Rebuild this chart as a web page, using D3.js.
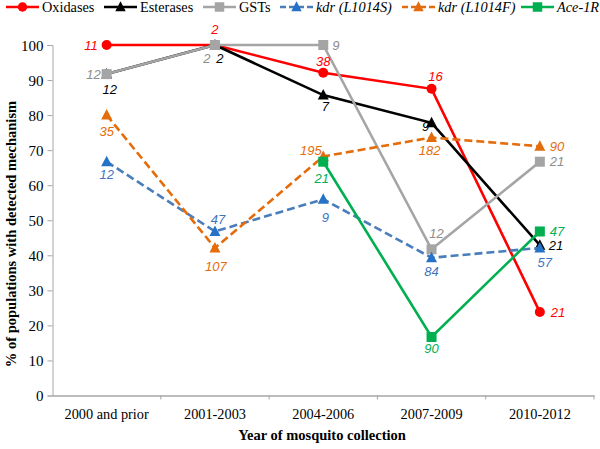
<!DOCTYPE html>
<html><head><meta charset="utf-8">
<script src="https://cdn.jsdelivr.net/npm/d3@7"></script>
<style>body{margin:0;background:#fff}svg{display:block}</style>
</head><body>
<svg id="c" width="600" height="449"></svg>
<script>
const categories = ["2000 and prior","2001-2003","2004-2006","2007-2009","2010-2012"];
const yTicks = [0,10,20,30,40,50,60,70,80,90,100];
const oxidases   = [100, 100, 92.1, 87.5, 23.8];
const esterases  = [91.7, 100, 85.7, 77.8, 42.9];
const gsts       = [91.7, 100, 100, 41.7, 66.7];
const kdrS       = [66.7, 46.8, 56.0, 39.3, 42.1];
const kdrF       = [80.0, 42.1, 68.2, 73.6, 71.1];
const ace1R      = [null, null, 66.7, 16.7, 46.8];
const nOxidases  = ["11","2","38","16","21"];
const nEsterases = ["12","2","7","9","21"];
const nGsts      = ["12","2","9","12","21"];
const nKdrS      = ["12","47","9","84","57"];
const nKdrF      = ["35","107","195","182","90"];
const nAce1R     = [null,null,"21","90","47"];

// label placement: [anchor, dx, dy]
const lpOx  = [["end",-9,4.5],["middle",0,-11],["middle",0,-7],["middle",4,-7.5],["start",11,4.5]];
const lpEs  = [["middle",3,19.5],["middle",5,18],["middle",2,16],["middle",-6,8.5],["start",9,4.5]];
const lpGs  = [["end",-6,4.5],["middle",-8,18],["start",9,4.5],["middle",5,-11],["start",10,4.5]];
const lpKS  = [["middle",0,17.5],["middle",3,-7.5],["middle",2,23],["middle",0,18.5],["middle",5,19]];
const lpKF  = [["middle",0,20.5],["middle",1,23.5],["end",-1.5,-1],["middle",-2,17.5],["start",10,4.5]];
const lpAc  = [null,null,["middle",-1.5,21],["middle",0,16.5],["start",10,4.5]];

const series = [
  {name:"Oxidases", vals:oxidases, n:nOxidases, lp:lpOx, color:"#ff0000", mcolor:"#ff0000", lcolor:"#ff0000", dash:null, marker:"circle", italic:false},
  {name:"Esterases", vals:esterases, n:nEsterases, lp:lpEs, color:"#000000", mcolor:"#000000", lcolor:"#000000", dash:null, marker:"triangle", italic:false},
  {name:"GSTs", vals:gsts, n:nGsts, lp:lpGs, color:"#a5a5a5", mcolor:"#a5a5a5", lcolor:"#8c8c8c", dash:null, marker:"square", italic:false},
  {name:"kdr (L1014S)", vals:kdrS, n:nKdrS, lp:lpKS, color:"#4a7ebb", mcolor:"#2672c8", lcolor:"#3f74c0", dash:"8,4", marker:"triangle", italic:true},
  {name:"kdr (L1014F)", vals:kdrF, n:nKdrF, lp:lpKF, color:"#e46c0a", mcolor:"#e46c0a", lcolor:"#e46c0a", dash:"8,4", marker:"triangle", italic:true},
  {name:"Ace-1R", vals:ace1R, n:nAce1R, lp:lpAc, color:"#00b050", mcolor:"#00b050", lcolor:"#00b050", dash:null, marker:"square", italic:true}
];

const svg = d3.select("#c");
const x = d3.scaleBand().domain(categories).range([52.5, 594]);
const y = d3.scaleLinear().domain([0,100]).range([395.5, 45]);
const serif = "'Liberation Serif','Times New Roman',serif";
const sans = "'Liberation Sans',Arial,sans-serif";

// Y axis
const yAxis = svg.append("g").attr("transform","translate(52.5,0)")
  .call(d3.axisLeft(y).tickValues(yTicks).tickSize(5).tickPadding(4));
yAxis.select(".domain").attr("stroke","#a6a6a6").attr("stroke-width",1);
yAxis.selectAll(".tick line").attr("stroke","#a6a6a6");
yAxis.selectAll(".tick text").style("font-family",serif).style("font-size","15px").attr("fill","#000").attr("dy","0.34em");

// X axis
const xAxis = svg.append("g").attr("transform","translate(0,395.5)")
  .call(d3.axisBottom(x).tickSize(0).tickPadding(13));
xAxis.select(".domain").attr("stroke","#a6a6a6").attr("stroke-width",1.5);
xAxis.selectAll(".tick text").style("font-family",serif).style("font-size","14.3px").attr("fill","#000");
svg.append("g").selectAll("line").data(categories).join("line")
  .attr("x1",d=> x(d) + x.bandwidth())
  .attr("x2",d=> x(d) + x.bandwidth())
  .attr("y1",395.5).attr("y2",399.5).attr("stroke","#a6a6a6");

// Axis titles
svg.append("text").attr("x",322).attr("y",440).attr("text-anchor","middle")
  .style("font-family",serif).attr("font-weight","bold").style("font-size","14.5px")
  .text("Year of mosquito collection");
svg.append("text").attr("transform","translate(16,234) rotate(-90)").attr("text-anchor","middle")
  .style("font-family",serif).attr("font-weight","bold").style("font-size","14.5px")
  .text("% of populations with detected mechanism");

function drawMarker(g, type, cx, cy, color, scale){
  const s = scale||1;
  if(type==="circle") g.append("circle").attr("cx",cx).attr("cy",cy).attr("r",5*s).attr("fill",color);
  else if(type==="square") g.append("rect").attr("x",cx-5*s).attr("y",cy-5*s).attr("width",10*s).attr("height",10*s).attr("fill",color);
  else g.append("path").attr("d",`M${cx},${cy-6*s}L${cx+5.5*s},${cy+4.5*s}L${cx-5.5*s},${cy+4.5*s}Z`).attr("fill",color);
}

const line = d3.line().defined(d=>d.v!=null).x(d=>x(d.c)+x.bandwidth()/2).y(d=>y(d.v));
const plot = svg.append("g");
series.forEach(s=>{
  const pts = s.vals.map((v,i)=>({c:categories[i], v}));
  const g = plot.append("g");
  g.append("path").attr("d",line(pts)).attr("fill","none").attr("stroke",s.color)
    .attr("stroke-width",2.6).attr("stroke-dasharray",s.dash);
  pts.forEach((p,i)=>{
    if(p.v==null) return;
    const cx = x(p.c)+x.bandwidth()/2, cy = y(p.v);
    drawMarker(g, s.marker, cx, cy, s.mcolor);
  });
});
// labels on top
series.forEach(s=>{
  s.vals.forEach((v,i)=>{
    if(v==null) return;
    const cx = x(categories[i])+x.bandwidth()/2, cy = y(v);
    const [anchor,dx,dy] = s.lp[i];
    plot.append("text").attr("x",cx+dx).attr("y",cy+dy).attr("text-anchor",anchor)
      .style("font-family",sans).attr("font-style","italic").style("font-size","13px")
      .attr("fill",s.lcolor).text(s.n[i]);
  });
});

// Legend
const legendX = [6,104,203,280,402,521];
const leg = svg.append("g");
series.forEach((s,i)=>{
  const lx = legendX[i], ly = 7;
  leg.append("line").attr("x1",lx).attr("x2",lx+33).attr("y1",ly).attr("y2",ly)
    .attr("stroke",s.color).attr("stroke-width",2.6).attr("stroke-dasharray",s.dash?"6,3":null);
  drawMarker(leg, s.marker, lx+16.5, ly, s.mcolor, 0.95);
  const t = leg.append("text").attr("x",lx+36).attr("y",ly+4.8)
    .style("font-family",serif).style("font-size","14.3px").attr("fill","#000");
  if(s.italic) t.attr("font-style","italic");
  t.text(s.name);
});
</script>
</body></html>
